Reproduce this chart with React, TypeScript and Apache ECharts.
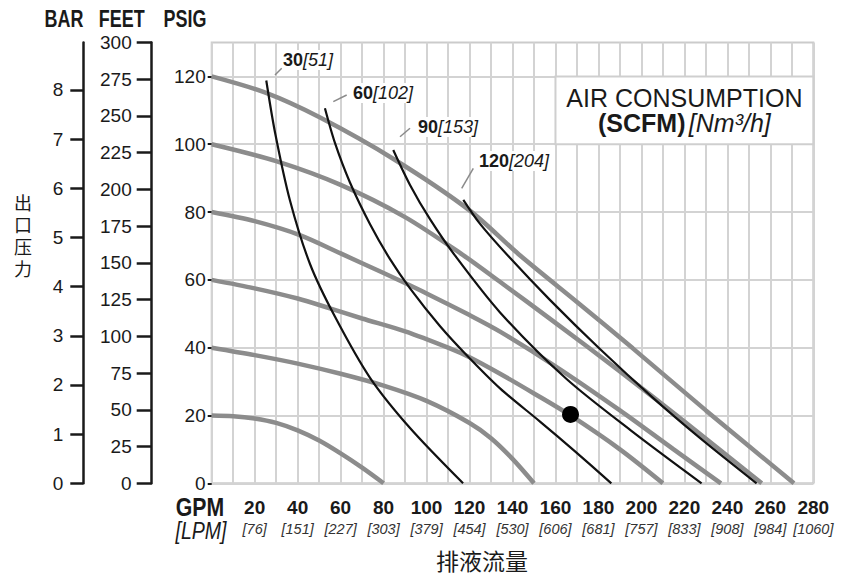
import React, { useEffect, useRef } from "react";
import * as echarts from "echarts";

// ---------- data ----------
const gpmTicks = [20, 40, 60, 80, 100, 120, 140, 160, 180, 200, 220, 240, 260, 280];
const lpmTicks = ["[76]", "[151]", "[227]", "[303]", "[379]", "[454]", "[530]", "[606]", "[681]", "[757]", "[833]", "[908]", "[984]", "[1060]"];
const psigTicks = [0, 20, 40, 60, 80, 100, 120];
const barTicks = [0, 1, 2, 3, 4, 5, 6, 7, 8];

// discharge-pressure curves (GPM, PSIG) for inlet air 20..120 psig
const air20 = [[0, 20], [10, 19.8], [20, 19.1], [30, 17.8], [40, 15.6], [50, 12.6], [60, 8.8], [70, 4.6], [80, 0]];
const air40 = [[0, 40], [20, 37.8], [40, 35.3], [60, 32.3], [80, 28.8], [100, 24.3], [120, 17.8], [130, 13.3], [140, 7.2], [150, 0]];
const air60 = [[0, 60], [20, 57.5], [40, 54.5], [55, 51.6], [70, 48.6], [90, 44.8], [110, 40], [120, 37.2], [134, 32.4], [150, 26.5], [167, 20], [190, 10], [210, 0]];
const air80 = [[0, 80], [20, 77.3], [41, 73.2], [60, 67.8], [80, 62], [100, 56], [120, 49.6], [134, 44.8], [160, 34.5], [190, 21.5], [215, 10], [237, 0]];
const air100 = [[0, 100], [30, 95], [60, 88], [90, 78.5], [117, 67.3], [134, 59.5], [160, 47.3], [190, 33], [220, 18.2], [256, 0]];
const air120 = [[0, 120], [25, 115.2], [50, 108], [85, 95.5], [120, 80.5], [143, 67.5], [170, 53.5], [196, 39.8], [230, 21.5], [271, 0]];

// air consumption curves (SCFM)
const scfm30 = [[25.4, 118.8], [29.5, 103.4], [36.4, 83.5], [45.8, 64.6], [57.4, 49.1], [73.7, 31.1], [92.3, 16.3], [117, 0]];
const scfm60 = [[52.7, 110.6], [57.4, 100.3], [64.3, 88.8], [73.7, 76.4], [83, 66.1], [92.3, 57.5], [106.2, 46.4], [118.8, 37.7], [134.2, 28], [152.8, 18.2], [169.1, 9.4], [186, 0]];
const scfm90 = [[84.5, 98.3], [92.3, 88], [101.6, 77.9], [113.2, 67.2], [134.2, 50.4], [164.9, 30.9], [196.1, 15.1], [228, 0]];
const scfm120 = [[117.1, 83.6], [124.8, 76.6], [138.8, 66.5], [157.4, 54.1], [180.7, 39.6], [205.4, 25.2], [227.2, 13.4], [253.6, 0]];

const dutyPoint = [[167, 20.3]];
const legendBox = [[160, 120], [280, 100]];

const scfmLabels = [
  { scfm: "30", nm: "[51]" },
  { scfm: "60", nm: "[102]" },
  { scfm: "90", nm: "[153]" },
  { scfm: "120", nm: "[204]" },
];

const SANS = "'Liberation Sans', Arial, Helvetica, sans-serif";
const CJK = "'Noto Sans CJK SC', sans-serif";
const INK = "#1a1a1a";

export default function App() {
  const ref = useRef<HTMLDivElement>(null);

  useEffect(() => {
    if (!ref.current) return;
    const chart = echarts.init(ref.current, undefined, { renderer: "svg" });

    const gray = { color: "#8c8c8c", width: 4.5 };
    const black = { color: "#111111", width: 2.2 };
    const airCurves = [air20, air40, air60, air80, air100, air120];
    const scfmCurves = [scfm30, scfm60, scfm90, scfm120];

    const series: any[] = [];
    airCurves.forEach((d, i) => {
      const s: any = {
        type: "line",
        data: d,
        smooth: 0.3,
        symbol: "none",
        silent: true,
        lineStyle: gray,
        z: 2,
      };
      if (i === 0) {
        s.markArea = {
          silent: true,
          itemStyle: { color: "#ffffff", borderColor: "#cfcfcf", borderWidth: 2 },
          label: {
            show: true,
            position: "inside",
            fontFamily: SANS,
            color: INK,
            formatter: "{a|AIR CONSUMPTION}\n{b|(SCFM)} {c|[Nm³/h]}",
            rich: {
              a: { fontFamily: SANS, fontSize: 25, lineHeight: 25, color: INK },
              b: { fontFamily: SANS, fontSize: 25, fontWeight: "bold", lineHeight: 24, color: INK },
              c: { fontFamily: SANS, fontSize: 25, fontStyle: "italic", lineHeight: 24, color: INK },
            },
          },
          data: [[{ coord: legendBox[0] }, { coord: legendBox[1] }]],
        };
      }
      series.push(s);
    });
    scfmCurves.forEach((d) => {
      series.push({
        type: "line",
        data: d,
        smooth: 0.3,
        symbol: "none",
        silent: true,
        lineStyle: black,
        z: 3,
      });
    });
    series.push({
      type: "scatter",
      data: dutyPoint,
      symbol: "circle",
      symbolSize: 17,
      itemStyle: { color: "#000000", opacity: 1 },
      z: 4,
      silent: true,
    });

    const labelPos = [
      { x: 282, y: 60, l: [275, 75, 281.7, 68.3] },
      { x: 352, y: 93, l: [333.3, 101.7, 346.7, 95] },
      { x: 417, y: 127, l: [400, 136.7, 410, 128.3] },
      { x: 478, y: 161, l: [461.7, 188.3, 473.3, 168.3] },
    ];
    const graphic: any[] = [];
    scfmLabels.forEach((s, i) => {
      const p = labelPos[i];
      graphic.push({
        type: "text",
        x: p.x,
        y: p.y,
        silent: true,
        z: 10,
        style: {
          text: `{b|${s.scfm}}{i|${s.nm}}`,
          rich: {
            b: { fontFamily: SANS, fontSize: 18, fontWeight: "bold", fill: INK },
            i: { fontFamily: SANS, fontSize: 18, fontStyle: "italic", fill: INK },
          },
          backgroundColor: "#ffffff",
          padding: [1, 1, 1, 1],
          align: "left",
          verticalAlign: "middle",
          textAlign: "left",
          textVerticalAlign: "middle",
        },
      });
      graphic.push({
        type: "line",
        silent: true,
        z: 10,
        shape: { x1: p.l[0], y1: p.l[1], x2: p.l[2], y2: p.l[3] },
        style: { stroke: "#8a8a8a", lineWidth: 1.5 },
      });
    });
    const txt = (text: string, x: number, y: number, extra: any = {}, scaleX = 1) => ({
      type: "text",
      x,
      y,
      scaleX,
      silent: true,
      style: {
        text,
        fill: INK,
        fontFamily: SANS,
        fontSize: 22,
        align: "center",
        verticalAlign: "middle",
        textAlign: "center",
        textVerticalAlign: "middle",
        ...extra,
      },
    });
    graphic.push(txt("BAR", 64, 19, { fontWeight: "bold", fontSize: 23 }, 0.78));
    graphic.push(txt("FEET", 121.7, 19, { fontWeight: "bold", fontSize: 23 }, 0.78));
    graphic.push(txt("PSIG", 185, 19, { fontWeight: "bold", fontSize: 23 }, 0.78));
    graphic.push(txt("GPM", 200, 507, { fontWeight: "bold", fontSize: 25 }, 0.85));
    graphic.push(txt("[LPM]", 201, 531, { fontStyle: "italic", fontSize: 23 }, 0.85));
    ["出", "口", "压", "力"].forEach((ch, i) => {
      graphic.push(txt(ch, 23, 202 + i * 22, { fontFamily: CJK, fontSize: 18, lineHeight: 18 }));
    });
    graphic.push(txt("排液流量", 482, 560, { fontFamily: CJK, fontSize: 23 }));

    const option: any = {
      animation: false,
      backgroundColor: "#ffffff",
      grid: {
        left: 211.7,
        top: 42.5,
        width: 601.6,
        height: 440.8,
        show: true,
        borderColor: "#cbcbcb",
        borderWidth: 2,
        backgroundColor: "transparent",
      },
      xAxis: {
        type: "value",
        min: 0,
        max: 280,
        interval: 10,
        axisLine: { show: false },
        axisTick: { show: false },
        splitLine: { show: true, lineStyle: { color: "#d3d3d3", width: 2 } },
        axisLabel: {
          customValues: gpmTicks,
          margin: 12,
          formatter: (v: number) => {
            const i = gpmTicks.indexOf(v);
            return `{n|${v}}\n{l|${lpmTicks[i] ?? ""}}`;
          },
          rich: {
            n: { fontFamily: SANS, fontSize: 19, fontWeight: "bold", lineHeight: 24, color: INK },
            l: { fontFamily: SANS, fontSize: 14.5, fontStyle: "italic", lineHeight: 20, color: "#333" },
          },
        },
      },
      yAxis: [
        {
          type: "value",
          min: 0,
          max: 130,
          interval: 10,
          position: "left",
          axisLine: { show: false },
          axisTick: { show: true, customValues: psigTicks, length: 4, lineStyle: { color: INK, width: 2 } },
          splitLine: { show: true, lineStyle: { color: "#d3d3d3", width: 2 } },
          axisLabel: { customValues: psigTicks, margin: 6, fontFamily: SANS, fontSize: 19, color: INK },
        },
        {
          type: "value",
          min: 0,
          max: 300,
          interval: 25,
          position: "left",
          offset: 60,
          axisLine: { show: true, lineStyle: { color: INK, width: 2.5 } },
          axisTick: { show: true, length: 15, lineStyle: { color: INK, width: 2.5 } },
          splitLine: { show: false },
          axisLabel: { margin: 20, fontFamily: SANS, fontSize: 19, color: INK },
        },
        {
          type: "value",
          min: 0,
          max: 130 / 14.5038,
          position: "left",
          offset: 128.4,
          axisLine: { show: true, lineStyle: { color: INK, width: 2.5 } },
          axisTick: { show: true, customValues: barTicks, length: 13, lineStyle: { color: INK, width: 2.5 } },
          splitLine: { show: false },
          axisLabel: { customValues: barTicks, margin: 20, fontFamily: SANS, fontSize: 19, color: INK },
        },
      ],
      series,
      graphic,
    };

    chart.setOption(option);
    return () => chart.dispose();
  }, []);

  return (
    <div
      ref={ref}
      style={{ position: "absolute", left: 0, top: 0, width: 847, height: 576, background: "#fff" }}
    />
  );
}
